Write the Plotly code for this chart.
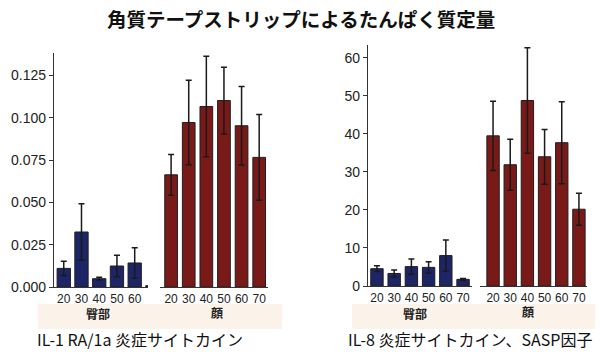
import plotly.graph_objects as go

ages = ["20", "30", "40", "50", "60", "70"]
group_labels = ["臀部", "顔"]
title_text = "角質テープストリップによるたんぱく質定量"
caption_left = "IL-1 RA/1a 炎症サイトカイン"
caption_right = "IL-8 炎症サイトカイン、SASP因子"

# IL-1 RA/1a
il1_buttock = [0.0110, 0.0325, 0.0049, 0.0124, 0.0142, 0.0008]
il1_buttock_err = [0.0042, 0.0167, 0.0008, 0.0063, 0.0090, 0.0]
il1_face = [0.0663, 0.0972, 0.1067, 0.1102, 0.0953, 0.0766]
il1_face_err = [0.0120, 0.0250, 0.0297, 0.0197, 0.0232, 0.0254]
il1_ticks = [0, 0.025, 0.05, 0.075, 0.1, 0.125]

# IL-8
il8_buttock = [4.55, 3.3, 5.1, 4.9, 8.0, 1.75]
il8_buttock_err = [0.75, 0.9, 2.0, 1.5, 4.1, 0.25]
il8_face = [39.5, 31.9, 48.8, 34.0, 37.7, 20.2]
il8_face_err = [9.1, 6.7, 13.9, 7.2, 10.8, 4.2]
il8_ticks = [0, 10, 20, 30, 40, 50, 60]

NAVY = "#1d2566"
RED = "#7a1a18"
EDGE = "#1e1e1e"
ERR = "#1a1a1a"
BAND = "#fbf3ea"
W, H = 600, 352

def bar(x, y, err, color, xa, ya, width):
    return go.Bar(
        x=x, y=y, xaxis=xa, yaxis=ya, width=width,
        marker=dict(color=color, line=dict(color=EDGE, width=1)),
        error_y=dict(type="data", array=err, visible=True, color=ERR,
                     thickness=1.5, width=3),
        showlegend=False, hoverinfo="skip",
    )

fig = go.Figure()
fig.add_trace(bar(ages, il1_buttock, il1_buttock_err, NAVY, "x", "y", 0.75))
fig.add_trace(bar(ages, il1_face, il1_face_err, RED, "x2", "y", 0.72))
fig.add_trace(bar(ages, il8_buttock, il8_buttock_err, NAVY, "x3", "y2", 0.72))
fig.add_trace(bar(ages, il8_face, il8_face_err, RED, "x4", "y2", 0.72))

def px_x(p):
    return p / W

def px_y(p):
    return 1 - p / H

tickfont = dict(family="Liberation Sans, Arial, sans-serif", size=14, color="#222")
xtickfont = dict(family="Liberation Sans, Arial, sans-serif", size=12, color="#222")

def xaxis(domain, rng, anchor):
    return dict(domain=domain, range=rng, anchor=anchor, type="category",
                showline=True, linecolor="#333", linewidth=1.2,
                showgrid=False, zeroline=False, ticks="", tickfont=xtickfont,
                ticklen=0, automargin=False, fixedrange=True)

def yaxis(domain, rng, anchor, ticks, fmt):
    return dict(domain=domain, range=rng, anchor=anchor,
                showline=True, linecolor="#333", linewidth=1.2,
                showgrid=False, zeroline=False, ticks="outside", ticklen=4,
                tickcolor="#333", tickvals=ticks, tickformat=fmt,
                tickfont=tickfont, automargin=False, fixedrange=True)

fig.update_layout(
    width=W, height=H,
    margin=dict(l=0, r=0, t=0, b=0),
    paper_bgcolor="white", plot_bgcolor="rgba(0,0,0,0)",
    bargap=0.25,
    xaxis=xaxis([px_x(54), px_x(148)], [-0.55, 4.75], "y"),
    xaxis2=xaxis([px_x(160), px_x(268)], [-0.63, 5.5], "y"),
    xaxis3=xaxis([px_x(368), px_x(472)], [-0.52, 5.52], "y2"),
    xaxis4=xaxis([px_x(480), px_x(587)], [-0.76, 5.47], "y2"),
    yaxis=yaxis([px_y(287), px_y(53)], [0, 0.1383], "x", il1_ticks, ".3f"),
    yaxis2=yaxis([px_y(286), px_y(45)], [0, 63.4], "x3", il8_ticks, "d"),
)

# beige bands behind group labels
for x0, x1 in [(38, 282), (352, 595)]:
    fig.add_shape(type="rect", xref="paper", yref="paper",
                  x0=px_x(x0), x1=px_x(x1), y0=px_y(329), y1=px_y(304),
                  fillcolor=BAND, line=dict(width=0), layer="below")

grp_font = dict(family="Noto Sans CJK JP", size=12, color="#222")
for xc, yc, txt in [(98, 313, group_labels[0]), (217, 312, group_labels[1]),
                    (415, 313, group_labels[0]), (528, 311, group_labels[1])]:
    fig.add_annotation(x=px_x(xc), y=px_y(yc), xref="paper", yref="paper",
                       text="<b>" + txt + "</b>", showarrow=False, font=grp_font,
                       xanchor="center", yanchor="middle")

fig.add_annotation(x=px_x(301), y=px_y(18), xref="paper", yref="paper",
                   text="<b>" + title_text + "</b>", showarrow=False,
                   font=dict(family="Noto Sans CJK JP", size=19.5, color="#111"),
                   xanchor="center", yanchor="middle")

cap_font = dict(family="Noto Sans CJK JP", size=16, color="#111")
fig.add_annotation(x=px_x(140), y=px_y(339), xref="paper", yref="paper",
                   text=caption_left, showarrow=False, font=cap_font,
                   xanchor="center", yanchor="middle")
fig.add_annotation(x=px_x(470), y=px_y(339), xref="paper", yref="paper",
                   text=caption_right, showarrow=False, font=cap_font,
                   xanchor="center", yanchor="middle")

fig.write_html("out.html")
